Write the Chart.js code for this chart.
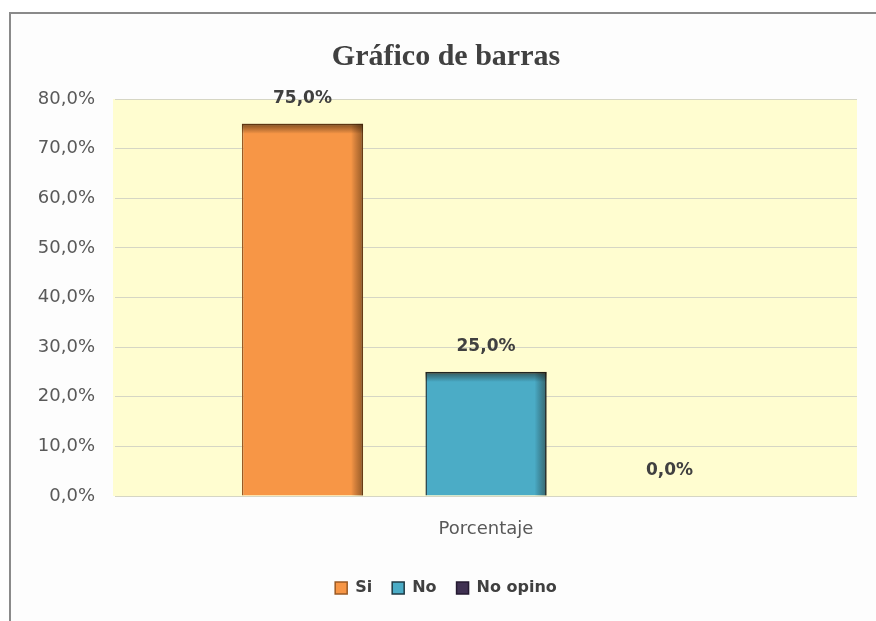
<!DOCTYPE html>
<html>
<head>
<meta charset="utf-8">
<script src="https://cdn.jsdelivr.net/npm/chart.js@4/dist/chart.umd.min.js"></script>
<style>
  html, body { margin: 0; padding: 0; background: #ffffff; }
  #frame {
    position: absolute; left: 9px; top: 12px; width: 900px; height: 700px;
    border-top: 2px solid #8a8a8a; border-left: 2px solid #8a8a8a;
    background: #fdfdfd;
  }
  #chart { position: absolute; left: 0; top: 0; }
</style>
</head>
<body>
<div id="frame"></div>
<canvas id="chart" width="876" height="621"></canvas>
<script>
/* =====================================================
   DATA
===================================================== */
const categories = ["Porcentaje"];
const seriesNames = ["Si", "No", "No opino"];
const siValues = [75.0];
const noValues = [25.0];
const noOpinoValues = [0.0];
const yMin = 0;
const yMax = 80;
const yStep = 10;

const fillColors = ["#f79646", "#4bacc6", "#403152"];
const edgeColors = ["#9a5a24", "#1f3a44", "#241a30"];

function pct(v) {
  return v.toFixed(1).replace(".", ",") + "%";
}

/* =====================================================
   PLUGINS
===================================================== */
const plotBackground = {
  id: "plotBackground",
  beforeDraw(chart) {
    const { ctx, chartArea: a } = chart;
    ctx.save();
    ctx.fillStyle = "#fffdd0";
    ctx.fillRect(a.left - 2, a.top, a.right - a.left + 2, a.bottom - a.top);
    ctx.restore();
  }
};

// darker right / top edge like the Excel bevel, plus value labels
const barDecor = {
  id: "barDecor",
  afterDatasetsDraw(chart) {
    const ctx = chart.ctx;
    chart.data.datasets.forEach((ds, i) => {
      const meta = chart.getDatasetMeta(i);
      meta.data.forEach((bar, j) => {
        const left = bar.x - bar.width / 2;
        const right = bar.x + bar.width / 2;
        const top = Math.min(bar.y, bar.base);
        const h = Math.abs(bar.base - bar.y);
        ctx.save();
        if (h > 2) {
          let g = ctx.createLinearGradient(right - 12, 0, right, 0);
          g.addColorStop(0, "rgba(0,0,0,0)");
          g.addColorStop(1, "rgba(40,20,0,0.45)");
          ctx.fillStyle = g;
          ctx.fillRect(right - 12, top, 12, h);
          g = ctx.createLinearGradient(0, top, 0, top + 10);
          g.addColorStop(0, "rgba(40,20,0,0.55)");
          g.addColorStop(1, "rgba(0,0,0,0)");
          ctx.fillStyle = g;
          ctx.fillRect(left, top, right - left, 10);
        }
        ctx.font = "bold 17px 'DejaVu Sans', sans-serif";
        ctx.fillStyle = "#404040";
        ctx.textAlign = "center";
        ctx.textBaseline = "middle";
        ctx.fillText(pct(ds.data[j]), bar.x, bar.y - 25);
        ctx.restore();
      });
    });
  }
};

/* =====================================================
   BAR CHART
===================================================== */
const seriesValues = [siValues, noValues, noOpinoValues];

new Chart(document.getElementById("chart"), {
  type: "bar",
  data: {
    labels: categories,
    datasets: seriesNames.map((name, i) => ({
      label: name,
      data: seriesValues[i],
      backgroundColor: fillColors[i],
      borderColor: edgeColors[i],
      borderWidth: 1.5,
      categoryPercentage: 0.742,
      barPercentage: 0.66
    }))
  },
  options: {
    responsive: false,
    animation: false,
    layout: {
      padding: { top: 39, left: 35, right: 19, bottom: 15 }
    },
    plugins: {
      title: {
        display: true,
        text: "Gráfico de barras",
        color: "#404040",
        font: { family: "'Liberation Serif', serif", size: 30, weight: "bold" },
        padding: { top: 0, bottom: 24 }
      },
      legend: {
        position: "bottom",
        labels: {
          color: "#404040",
          font: { family: "'DejaVu Sans', sans-serif", size: 16, weight: "bold" },
          boxWidth: 12,
          boxHeight: 12,
          padding: 20
        }
      },
      tooltip: { enabled: false }
    },
    scales: {
      x: {
        grid: { display: false, drawTicks: false },
        border: { display: false },
        ticks: {
          color: "#595959",
          font: { family: "'DejaVu Sans', sans-serif", size: 18 },
          padding: 23
        },
        afterFit(scale) { scale.height = 64; }
      },
      y: {
        min: yMin,
        max: yMax,
        grid: { color: "#d6d6c4", lineWidth: 1, drawTicks: false },
        border: { display: false },
        ticks: {
          stepSize: yStep,
          color: "#595959",
          font: { family: "'DejaVu Sans', sans-serif", size: 18 },
          padding: 20,
          callback: v => pct(v)
        },
        afterFit(scale) { scale.width = 80; }
      }
    }
  },
  plugins: [plotBackground, barDecor]
});
</script>
</body>
</html>
